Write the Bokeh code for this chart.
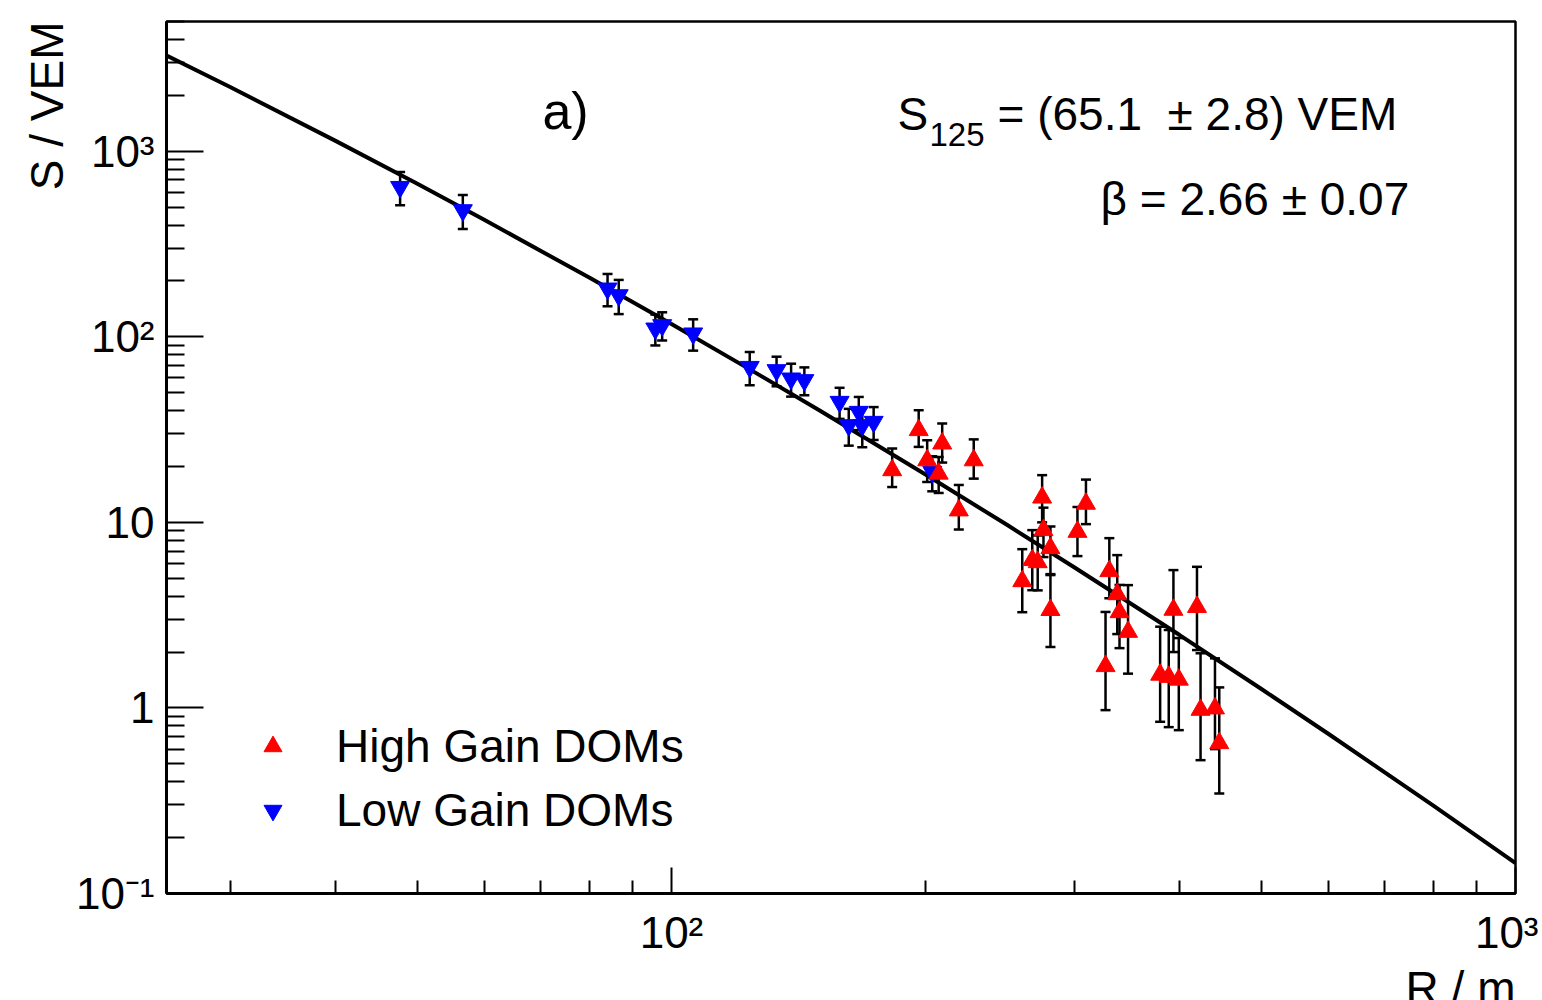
from bokeh.plotting import figure
from bokeh.models import (FixedTicker, CustomJSTickFormatter, Whisker, ColumnDataSource,
                          Label, Legend, LegendItem, TeeHead, Title)
from bokeh.embed import file_html
from bokeh.resources import INLINE

# ---------------- data ----------------
# Low Gain DOMs (blue, inverted triangles)
lg_R = [47.7, 56.6, 84.0, 86.6, 95.7, 97.5, 106.1, 123.8, 133.2, 138.6, 143.7,
        158.2, 162.2, 166.7, 168.3, 173.6, 203.7]
lg_S = [642, 481, 182, 167.5, 110.8, 115.5, 104.2, 68.8, 66.1, 59.6, 58.4,
        44.6, 33.4, 39.4, 33.4, 34.8, 18.7]
lg_err = [130, 100, 36, 35, 21, 20, 20, 14, 12, 12, 10, 8.5, 7.5, 8, 8, 7, 4]

# High Gain DOMs (red, triangles)
hg_R = [182.6, 196.3, 200.9, 207.3, 209.3, 219.0, 228.1, 260.4, 267.6, 271.6,
        275.9, 281.2, 274.9, 281.2, 302.7, 309.8, 330.2, 337.4, 339.5, 347.5,
        326.8, 393.3, 419.4, 379.3, 388.3, 399.1, 423.5, 440.5, 445.7]
hg_S = [19.1, 31.4, 21.6, 18.3, 26.6, 11.6, 21.6, 4.82, 6.26, 6.1,
        9.08, 7.26, 13.6, 3.37, 8.89, 12.6, 5.46, 4.1, 3.28, 2.57,
        1.68, 3.38, 3.5, 1.51, 1.47, 1.42, 0.977, 0.994, 0.646]
hg_lo = [15.5, 25.5, 16.5, 14.4, 21.0, 9.15, 17.2, 3.28, 4.31, 4.3,
         6.5, 5.2, 10.0, 2.13, 6.58, 9.78, 3.9, 2.5, 2.1, 1.53,
         0.973, 2.0, 2.05, 0.842, 0.788, 0.759, 0.523, 0.6, 0.346]
hg_hi = [25.0, 40.2, 27.7, 22.5, 34.1, 15.9, 28.0, 7.17, 9.08, 8.5,
         12.0, 9.5, 17.96, 5.26, 12.1, 17.0, 8.22, 6.66, 4.6, 4.59,
         3.29, 5.53, 5.76, 2.74, 2.63, 2.38, 1.97, 1.85, 1.29]

# fit curve
fit_R = [25, 30, 40, 50, 60, 80, 100, 125, 150, 200, 250, 300, 400, 500, 600, 800, 1000]
fit_S = [3347, 2217, 1137, 667, 427, 207.8, 117.1, 65.1, 39.9, 18.1, 9.67, 5.73,
         2.47, 1.265, 0.726, 0.2965, 0.146]

y_major = [0.1, 1, 10, 100, 1000]
y_minor = [m * d for d in (0.1, 1, 10, 100) for m in range(2, 10)] + [2000, 3000, 4000, 5000]
x_major = [100, 1000]
x_minor = [30, 40, 50, 60, 70, 80, 90] + [m * 100 for m in range(2, 10)]

FONT = "Liberation Sans"

# ---------------- figure ----------------
p = figure(frame_width=1349, frame_height=872, x_axis_type="log", y_axis_type="log",
           x_range=(25.22, 1000), y_range=(0.1, 5000),
           output_backend="svg", toolbar_location=None,
           min_border_left=166, min_border_right=23, min_border_top=21, min_border_bottom=60)
p.xgrid.visible = False
p.ygrid.visible = False
p.outline_line_color = "black"
p.outline_line_width = 2.5
p.background_fill_color = "white"
p.border_fill_color = "white"

fmt = CustomJSTickFormatter(code="""
const e = Math.round(Math.log10(tick));
if (e == 0) return "1";
if (e == 1) return "10";
const sup = {"-1": "\u207b\u00b9", "2": "\u00b2", "3": "\u00b3"};
return "10" + sup[String(e)];
""")

for ax in (p.xaxis[0], p.yaxis[0]):
    ax.axis_line_width = 3
    ax.axis_line_color = "black"
    ax.major_tick_out = 0
    ax.minor_tick_out = 0
    ax.major_tick_line_width = 2
    ax.minor_tick_line_width = 2
    ax.major_tick_line_color = "black"
    ax.minor_tick_line_color = "black"
    ax.major_label_text_font = FONT
    ax.major_label_text_font_size = "44px"
    ax.major_label_text_color = "black"
    ax.formatter = fmt

p.yaxis.ticker = FixedTicker(ticks=y_major, minor_ticks=y_minor)
p.xaxis.ticker = FixedTicker(ticks=x_major, minor_ticks=x_minor)
p.yaxis.major_tick_in = 37
p.yaxis.minor_tick_in = 18
p.xaxis.major_tick_in = 26
p.xaxis.minor_tick_in = 13
p.yaxis.major_label_standoff = 12
p.xaxis.major_label_standoff = 14

# axis titles at the far ends of the axes (ROOT style)
p.add_layout(Title(text="S / VEM", align="right", text_font=FONT, text_font_size="46px",
                   text_font_style="normal", text_color="black", standoff=0), "left")
p.add_layout(Title(text="R / m", align="right", text_font=FONT, text_font_size="46px",
                   text_font_style="normal", text_color="black", standoff=0), "below")

# fit line
p.line(fit_R, fit_S, line_width=4, line_color="black")

# error bars
src_hg = ColumnDataSource(dict(R=hg_R, S=hg_S, lo=hg_lo, hi=hg_hi))
src_lg = ColumnDataSource(dict(R=lg_R, S=lg_S,
                               lo=[s - e for s, e in zip(lg_S, lg_err)],
                               hi=[s + e for s, e in zip(lg_S, lg_err)]))
for src in (src_hg, src_lg):
    w = Whisker(source=src, base="R", lower="lo", upper="hi", dimension="height",
                line_color="black", line_width=2.5,
                upper_head=TeeHead(size=10, line_width=2.5, line_color="black"),
                lower_head=TeeHead(size=10, line_width=2.5, line_color="black"))
    p.add_layout(w)

r_lg = p.scatter("R", "S", source=src_lg, marker="inverted_triangle", size=19,
                 fill_color="#0000ff", line_color="#0000ff")
r_hg = p.scatter("R", "S", source=src_hg, marker="triangle", size=19,
                 fill_color="#ff0000", line_color="#ff0000")

legend = Legend(items=[LegendItem(label="High Gain DOMs", renderers=[r_hg]),
                       LegendItem(label="Low Gain DOMs", renderers=[r_lg])],
                location=(84, 56), orientation="vertical",
                border_line_color=None, background_fill_alpha=0,
                label_text_font=FONT, label_text_font_size="46px", label_text_color="black",
                glyph_width=45, glyph_height=50, label_height=50,
                spacing=10, label_standoff=41, padding=0, margin=0)
p.add_layout(legend)

# frame-relative screen coordinates: x from frame left, y up from frame bottom
def lab(text, x, y, size="46px", align="left", baseline="middle"):
    p.add_layout(Label(x=x, y=y, x_units="screen", y_units="screen", text=text,
                       text_font=FONT, text_font_size=size, text_color="black",
                       text_align=align, text_baseline=baseline))

lab("a)", 399, 783, size="52px", align="center")
lab("S", 731, 780)
lab("125", 763, 759, size="33px")
lab("= (65.1 \u00a0\u00b1 2.8) VEM", 831, 780)
lab("\u03b2 = 2.66 \u00b1 0.07", 934, 695)

with open("out.html", "w", encoding="utf-8") as f:
    f.write(file_html(p, INLINE))
